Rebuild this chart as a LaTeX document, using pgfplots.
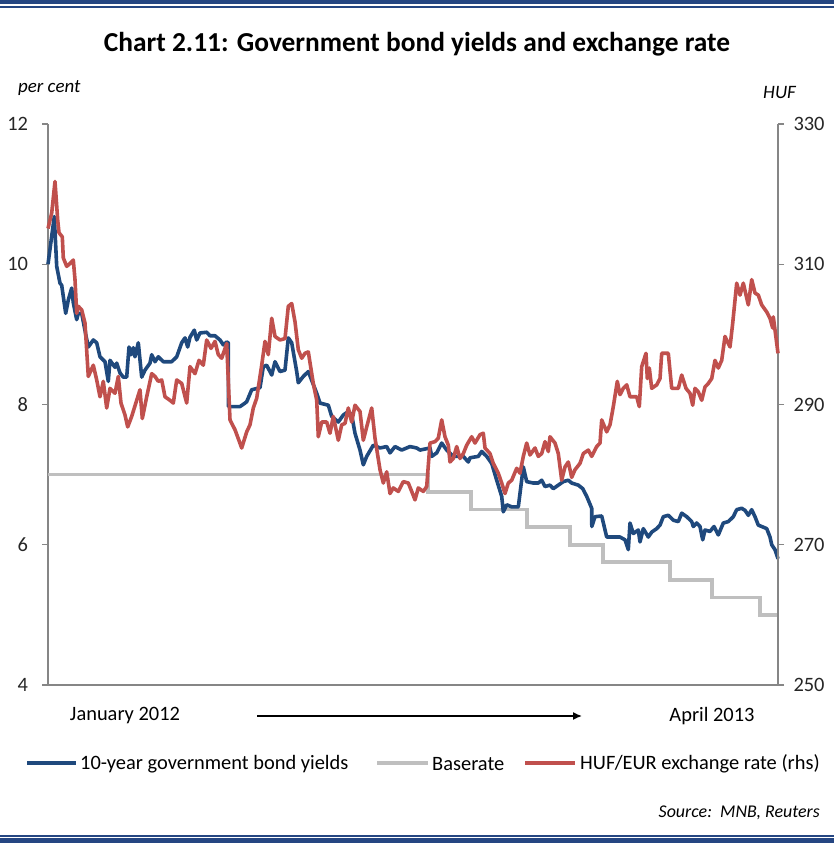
\documentclass[border=0pt]{standalone}
\usepackage{fontspec}
\setmainfont{Carlito}
\usepackage{pgfplots}
\pgfplotsset{compat=1.18}
\usetikzlibrary{arrows.meta}
\definecolor{bblue}{RGB}{31,73,125}
\definecolor{bred}{RGB}{192,80,77}
\definecolor{bgray}{RGB}{191,191,191}
\definecolor{axgray}{RGB}{134,134,134}
\definecolor{framec}{RGB}{37,70,130}

\pgfplotstableread{
x y
0 10.00
6.3 10.68
8.7 9.97
12 9.73
13.7 9.70
17.7 9.30
20.3 9.49
23.7 9.66
25.3 9.45
28.7 9.21
30.3 9.30
33.7 9.30
38 8.98
40.3 8.82
45.3 8.92
48.7 8.88
52 8.68
57 8.61
60.3 8.33
62 8.63
67 8.53
68.7 8.59
72 8.45
75.3 8.39
78.7 8.39
81 8.82
83 8.71
85.3 8.81
87 8.68
90.3 8.88
93.7 8.39
97 8.49
102 8.59
103.7 8.71
107 8.61
110.3 8.68
115.3 8.61
123.7 8.61
128.7 8.68
133.7 8.88
137 8.95
139.7 8.82
142 8.96
146.3 9.06
148.7 8.92
152 9.02
158.7 9.03
162 8.98
167 8.98
172 8.92
175.3 8.85
178.7 8.89
180.3 8.88
180.4 7.97
192 7.97
197 8.02
198.7 8.04
203.7 8.21
212 8.24
215.3 8.54
218.7 8.56
223.7 8.42
227 8.61
232 8.47
237 8.49
240.3 8.95
243.7 8.88
248.7 8.47
250.3 8.31
255.3 8.40
260.3 8.47
268.7 8.16
272 8.02
280.3 7.99
283.7 7.83
290.3 7.75
295.3 7.85
300.3 7.90
303.7 7.85
307 7.59
312 7.35
315.3 7.14
318.7 7.26
325.3 7.42
332 7.38
338.7 7.40
342 7.31
347 7.40
353.7 7.35
362 7.40
368.7 7.38
372 7.35
382 7.38
383.7 7.26
388.7 7.31
393.7 7.45
398.7 7.35
405.3 7.26
415.3 7.26
420.3 7.18
422 7.24
430.3 7.26
433.7 7.33
438.7 7.26
443.7 7.16
448.7 6.92
453.7 6.69
455.3 6.47
458.7 6.57
463.7 6.54
470.3 6.54
475.3 7.11
478.7 6.90
485.3 6.88
490.3 6.88
493.7 6.92
497 6.83
502 6.85
505.3 6.80
510.3 6.85
515.3 6.90
520.3 6.92
523.7 6.88
530.3 6.85
534.7 6.80
538.7 6.69
543.7 6.52
543.8 6.26
547 6.40
553.7 6.41
558.7 6.11
572 6.11
577 6.07
580.3 5.93
582 6.31
585.3 6.16
590.3 6.21
592 6.04
595.3 6.23
600.3 6.11
603.7 6.18
608.7 6.23
612 6.28
615.3 6.40
620.3 6.42
625.3 6.35
630.3 6.33
633.7 6.45
638.7 6.40
643.7 6.33
645.3 6.26
648.7 6.31
652 6.26
654.7 6.07
657 6.21
662 6.19
666 6.26
670.3 6.14
675.3 6.31
680.3 6.33
685.3 6.40
688.7 6.50
693.7 6.52
697 6.49
700.3 6.42
703.7 6.50
707 6.40
710.3 6.28
718.7 6.23
722 6.11
723.7 6.00
727 5.93
730 5.80
}\bondtable

\pgfplotstableread{
x y
0 7.00
380 6.75
423 6.50
479 6.25
522 6.00
555 5.75
622 5.50
664 5.25
712 5.00
730 5.00
}\basetable

\pgfplotstableread{
x y
0 315.1
3.7 317.3
7 321.8
9.7 316.3
11 314.5
14.3 313.9
15.3 310.9
18.7 309.7
22 310.1
25.3 310.6
27 307.8
28.7 303.0
30.3 304.0
33.7 303.5
37 301.6
40.3 294.0
45.3 295.6
48.7 293.5
52 291.1
55.3 293.3
58.7 289.5
62 292.3
67 291.6
70.3 294.0
73 290.2
77 288.5
79.7 286.8
83.7 288.3
88.7 290.6
92 292.1
94.3 288.0
98.7 291.1
103.7 294.4
107 294.0
110.3 293.3
113.7 293.5
117 291.1
122 290.6
125.3 290.2
128.7 293.5
133.7 293.0
138.7 290.2
142 295.4
147 294.4
151 296.3
155.3 295.6
158.7 299.2
163 298.0
167 299.0
170.3 297.1
173.7 296.6
178.7 298.7
182 287.8
187 286.4
193.7 283.8
198.7 286.1
202 287.1
205.3 289.5
208.7 290.9
213.7 295.6
217 299.0
220.3 297.1
223.7 302.3
227 299.7
232 299.2
237 299.4
240.3 304.0
243.7 304.4
247 301.8
250.3 297.8
253.7 296.6
257 297.3
260.3 297.5
265.3 293.0
268.7 290.6
270.3 285.4
273.7 287.5
278.7 287.5
282 285.9
285.3 288.3
290.3 284.9
293.7 287.1
297 287.3
300.3 289.5
303.7 287.5
307 289.9
312 289.0
315.3 284.9
318.7 286.8
323.7 289.5
327 285.2
332 280.7
335.3 278.8
338.7 280.4
342 277.3
345.3 278.1
350.3 277.6
355.3 279.0
360.3 278.8
363.7 277.6
367 276.4
370.3 278.1
375.3 277.6
378.7 278.3
382 284.5
387 284.7
390.3 285.2
393.7 287.8
397 285.4
400.3 284.2
402 281.8
405.3 282.3
408.7 284.0
412 282.3
415.3 283.0
418.7 284.2
423.7 285.4
427 284.5
432 285.7
435.3 285.9
437 283.8
442 283.0
445.3 281.6
450.3 280.2
453.7 278.8
457 277.3
460.3 278.8
463.7 279.2
468.7 280.9
472 280.2
475.3 282.6
478.7 284.5
482 282.8
487 283.8
490.3 282.6
493.7 283.0
497 284.7
500.3 283.3
502 285.4
507 284.5
510.3 283.0
513.7 279.2
517 281.1
520.3 281.8
523.7 279.6
527 280.7
532 281.6
535.3 283.0
540.3 283.5
543.7 282.6
548.7 284.0
552 284.5
553.7 287.8
558.7 286.1
562 287.1
565.3 289.7
569.3 293.3
572 291.4
575.3 292.3
578.7 292.8
582 291.1
588.7 291.1
591.3 289.7
593.7 295.4
598 297.3
599.3 293.7
601.3 295.2
603.7 292.3
608.7 292.8
612 293.7
613.7 297.3
620.3 297.3
623.7 292.3
630.3 292.3
633.7 294.2
638 292.3
642 291.6
644.7 289.9
647 292.3
650.3 291.8
653.7 290.6
657 292.5
660.3 293.0
663.7 293.7
667 296.3
670.3 295.2
673.7 296.3
677 299.7
682 298.2
684.7 301.6
688.7 307.3
692 305.6
695.3 307.3
700.3 304.2
703.7 307.8
707 305.9
710.3 305.6
713.7 304.2
718.7 303.2
722 302.3
724.7 300.9
725.3 302.5
730 297.3
}\hufeurtable

\begin{document}
\begin{tikzpicture}[x=1bp,y=1bp]
\path[use as bounding box] (0,0) rectangle (834,843);
% frame lines
\fill[framec] (0,839) rectangle (834,843);
\fill[framec] (0,835.3) rectangle (834,836.6);
\fill[framec] (0,6.4) rectangle (834,7.8);
\fill[framec] (0,0) rectangle (834,4.6);

\node[font=\fontsize{27.5}{31}\selectfont\bfseries] at (417,799) {Chart 2.11: Government bond yields and exchange rate};
\node[font=\fontsize{19}{22}\selectfont\itshape, anchor=west, inner sep=0] at (18,755) {per cent};
\node[font=\fontsize{19}{22}\selectfont\itshape, anchor=west, inner sep=0] at (763,750) {HUF};

\begin{axis}[
  at={(48bp,158bp)}, anchor=south west,
  scale only axis, width=730bp, height=561bp,
  xmin=0, xmax=730, ymin=4, ymax=12,
  ytick={4,6,8,10,12},
  xtick=\empty,
  axis y line*=left, axis x line*=bottom,
  axis line style={axgray, line width=1.1bp},
  tick style={axgray, line width=1.1bp},
  tick align=outside, major tick length=5.5bp,
  /pgf/number format/assume math mode=true,
  yticklabel style={font=\fontsize{20.5}{24}\selectfont, text=black!85, xshift=-11bp},
  clip=false,
]
\addplot[bgray, line width=3.6bp, const plot] table[x=x,y=y] {\basetable};
\addplot[bblue, line width=3.6bp, line join=round] table[x=x,y=y] {\bondtable};
\end{axis}

\begin{axis}[
  at={(48bp,158bp)}, anchor=south west,
  scale only axis, width=730bp, height=561bp,
  xmin=0, xmax=730, ymin=250, ymax=330,
  ytick={250,270,290,310,330},
  xtick=\empty,
  axis y line*=right, axis x line=none,
  axis line style={axgray, line width=1.1bp},
  tick style={axgray, line width=1.1bp},
  tick align=outside, major tick length=6bp,
  /pgf/number format/assume math mode=true,
  yticklabel style={font=\fontsize{20.5}{24}\selectfont, text=black!85, xshift=6bp},
  clip=false,
]
\addplot[bred, line width=3.6bp, line join=round] table[x=x,y=y] {\hufeurtable};
\end{axis}

\node[font=\fontsize{20.5}{24}\selectfont] at (125,127) {January 2012};
\draw[line width=1.5bp, -{Latex[length=9bp,width=8bp]}] (257,127) -- (582,127);
\node[font=\fontsize{20.5}{24}\selectfont] at (712,127) {April 2013};

% legend
\draw[bblue, line width=3.6bp] (27,80) -- (76,80);
\node[font=\fontsize{20.5}{24}\selectfont, anchor=west, inner sep=0] at (80,79) {10-year government bond yields};
\draw[bgray, line width=3.6bp] (377,80) -- (428,80);
\node[font=\fontsize{20.5}{24}\selectfont, anchor=west, inner sep=0] at (432,79) {Baserate};
\draw[bred, line width=3.6bp] (525,80) -- (575,80);
\node[font=\fontsize{20.5}{24}\selectfont, anchor=west, inner sep=0] at (580,79) {HUF/EUR exchange rate (rhs)};

\node[font=\fontsize{18}{22}\selectfont\itshape, anchor=east, inner sep=0] at (820,30) {Source:~~MNB, Reuters};
\end{tikzpicture}
\end{document}
